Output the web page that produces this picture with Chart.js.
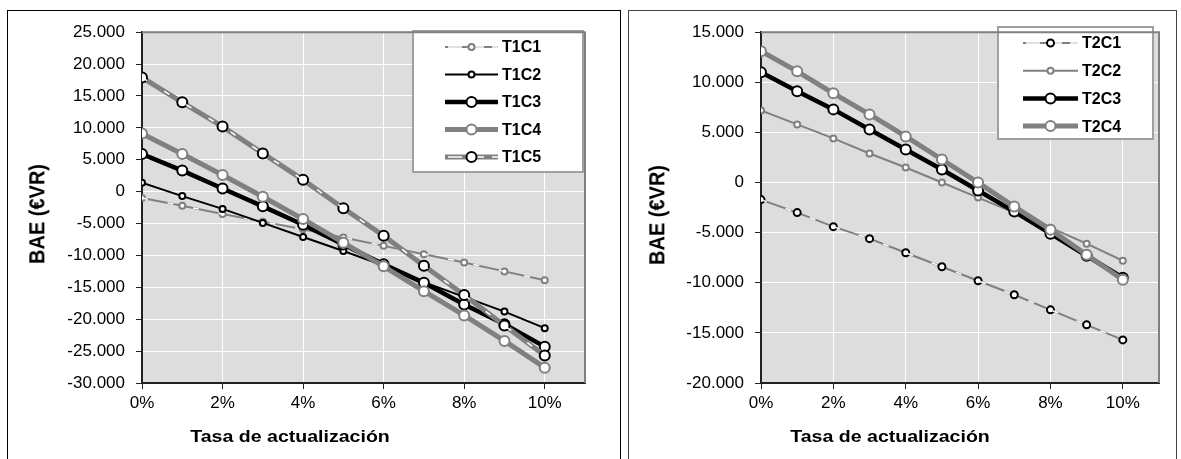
<!DOCTYPE html>
<html>
<head>
<meta charset="utf-8">
<script src="https://cdn.jsdelivr.net/npm/chart.js@4"></script>
<style>
    body { margin: 0; background: #fff; font-family: "Liberation Sans", Arial, sans-serif; }
    .panel { position: absolute; top: 10px; height: 470px; border: 1px solid #000; box-sizing: border-box; }
    #p1 { left: 7px; width: 614px; }
    #p2 { left: 628px; width: 549px; border-color: #444; }
    .panel canvas { position: absolute; left: 0; top: 0; }
    .title { position: absolute; font-weight: bold; white-space: nowrap; color: #000; }
    .ytitle { font-size: 20px; transform: translate(-50%, -50%) rotate(-90deg) scaleY(1.1); }
    .xtitle { font-size: 17px; transform: translate(-50%, -50%) scaleX(1.15); }
</style>
</head>
<body>
<div class="panel" id="p1"><canvas id="chart1" width="612" height="448"></canvas></div>
<div class="panel" id="p2"><canvas id="chart2" width="547" height="448"></canvas></div>
<div class="title ytitle" style="left:37px;top:214px">BAE (€VR)</div>
<div class="title xtitle" style="left:290px;top:437px">Tasa de actualización</div>
<div class="title ytitle" style="left:657px;top:215px">BAE (€VR)</div>
<div class="title xtitle" style="left:890px;top:437px">Tasa de actualización</div>
<script>
// data
const rates = [0, 1, 2, 3, 4, 5, 6, 7, 8, 9, 10];
const xTicks = [0, 2, 4, 6, 8, 10];

const t1Labels = ['T1C1', 'T1C2', 'T1C3', 'T1C4', 'T1C5'];
const t1c1 = [-1000, -2200, -3500, -4700, -5900, -7200, -8500, -9800, -11100, -12500, -13900];
const t1c2 = [1400, -700, -2700, -4900, -7100, -9300, -11600, -14200, -16500, -18800, -21400];
const t1c3 = [5900, 3300, 500, -2300, -5200, -8300, -11400, -14300, -17700, -20800, -24300];
const t1c4 = [9100, 5900, 2600, -800, -4300, -8000, -11700, -15600, -19400, -23400, -27600];
const t1c5 = [17900, 14000, 10200, 6000, 1850, -2600, -6900, -11600, -16200, -21000, -25700];

const t2Labels = ['T2C1', 'T2C2', 'T2C3', 'T2C4'];
const t2c1 = [-1700, -3000, -4400, -5600, -7000, -8400, -9800, -11200, -12700, -14200, -15700];
const t2c2 = [7200, 5800, 4400, 2900, 1500, 0, -1500, -3000, -4500, -6100, -7800];
const t2c3 = [11000, 9100, 7300, 5300, 3300, 1300, -800, -2900, -5100, -7300, -9500];
const t2c4 = [13100, 11100, 8900, 6800, 4600, 2300, 0, -2400, -4700, -7200, -9700];

const GRAY = '#808080';
const FONT = '"Liberation Sans", Arial, sans-serif';

// style per series: line color, line width, marker radius, marker border, dashed white overlay
const t1Styles = [
    { color: GRAY, width: 2, radius: 3, mark: GRAY, dash: true },
    { color: '#000', width: 2, radius: 3, mark: '#000' },
    { color: '#000', width: 4.5, radius: 5, mark: '#000' },
    { color: GRAY, width: 5, radius: 5, mark: GRAY },
    { color: GRAY, width: 5, radius: 5, mark: '#000', dash: true }
];
const t2Styles = [
    { color: GRAY, width: 2, radius: 3.5, mark: '#000', dash: true },
    { color: GRAY, width: 2, radius: 3, mark: GRAY },
    { color: '#000', width: 4.5, radius: 5, mark: '#000' },
    { color: GRAY, width: 5, radius: 5, mark: GRAY }
];

function fmt(v) {
    const s = Math.abs(v).toString().replace(/\B(?=(\d{3})+(?!\d))/g, '.');
    return (v < 0 ? '-' : '') + s;
}

function buildDatasets(labels, values, styles) {
    const sets = [];
    values.forEach((vals, k) => {
        const st = styles[k];
        const pts = rates.map((r, i) => ({ x: r, y: vals[i] }));
        sets.push({
            label: labels[k],
            data: pts,
            st: st,
            borderColor: st.color,
            borderWidth: st.width,
            pointRadius: st.radius,
            pointBorderWidth: 2,
            pointBorderColor: st.mark,
            pointBackgroundColor: '#fff',
            tension: 0,
            order: 100 - 2 * k
        });
        if (st.dash) {
            sets.push({
                data: pts,
                borderColor: '#fff',
                borderWidth: 1.5,
                borderDash: [6, 20],
                pointRadius: 0,
                tension: 0,
                order: 99 - 2 * k
            });
        }
    });
    return sets;
}

// grey plot area with border on top and right
const plotBg = {
    id: 'plotBg',
    beforeDraw(chart) {
        const a = chart.chartArea, ctx = chart.ctx;
        ctx.save();
        ctx.fillStyle = '#dddddd';
        ctx.fillRect(a.left, a.top, a.right - a.left, a.bottom - a.top);
        ctx.restore();
    },
    afterDraw(chart) {
        const a = chart.chartArea, ctx = chart.ctx;
        ctx.save();
        ctx.strokeStyle = GRAY;
        ctx.lineWidth = 2;
        ctx.beginPath();
        ctx.moveTo(a.left, a.top);
        ctx.lineTo(a.right, a.top);
        ctx.lineTo(a.right, a.bottom);
        ctx.stroke();
        ctx.restore();
    }
};

// boxed legend inside the plot
const legendBox = {
    id: 'legendBox',
    afterDatasetsDraw(chart, args, o) {
        const ctx = chart.ctx;
        ctx.save();
        ctx.fillStyle = '#fff';
        ctx.strokeStyle = '#a0a0a0';
        ctx.lineWidth = 2;
        ctx.fillRect(o.x, o.y, o.w, o.h);
        ctx.strokeRect(o.x, o.y, o.w, o.h);
        const items = chart.data.datasets.filter(d => d.label);
        items.forEach((d, i) => {
            const st = d.st;
            const y = o.y + o.first + i * o.step;
            ctx.strokeStyle = st.color;
            ctx.lineWidth = st.width;
            ctx.setLineDash([]);
            ctx.beginPath();
            ctx.moveTo(o.x + o.l1, y);
            ctx.lineTo(o.x + o.l2, y);
            ctx.stroke();
            if (st.dash) {
                ctx.strokeStyle = '#fff';
                ctx.lineWidth = 1.5;
                ctx.setLineDash([14, 8]);
                ctx.beginPath();
                ctx.moveTo(o.x + o.l1 + 3, y);
                ctx.lineTo(o.x + o.l2, y);
                ctx.stroke();
                ctx.setLineDash([]);
            }
            const cx = (o.l1 + o.l2) / 2 + o.x;
            ctx.fillStyle = '#fff';
            ctx.strokeStyle = st.mark;
            ctx.lineWidth = 2;
            ctx.beginPath();
            ctx.arc(cx, y, st.radius, 0, Math.PI * 2);
            ctx.fill();
            ctx.stroke();
            ctx.fillStyle = '#000';
            ctx.font = 'bold 16px ' + FONT;
            ctx.textBaseline = 'middle';
            ctx.fillText(d.label, o.x + o.tx, y + 1);
        });
        ctx.restore();
    }
};

function makeChart(el, datasets, yMin, yMax, pad, yWidth, legend) {
    return new Chart(el, {
        type: 'line',
        data: { datasets: datasets },
        plugins: [plotBg, legendBox],
        options: {
            responsive: false,
            animation: false,
            events: [],
            layout: { padding: pad },
            plugins: {
                legend: { display: false },
                tooltip: { enabled: false },
                legendBox: legend
            },
            scales: {
                x: {
                    type: 'linear',
                    min: 0,
                    max: 11,
                    afterBuildTicks: s => { s.ticks = xTicks.map(v => ({ value: v })); },
                    afterFit: s => { s.height = 76; },
                    grid: { color: '#fff', lineWidth: 1, tickLength: 6, tickColor: '#222' },
                    border: { color: '#222', width: 2 },
                    ticks: {
                        color: '#000',
                        font: { family: FONT, size: 17 },
                        padding: 4,
                        maxRotation: 0,
                        callback: v => v + '%'
                    }
                },
                y: {
                    min: yMin,
                    max: yMax,
                    afterFit: s => { s.width = yWidth; },
                    grid: { color: '#fff', lineWidth: 1, tickLength: 6, tickColor: '#222' },
                    border: { color: '#222', width: 2 },
                    ticks: {
                        stepSize: 5000,
                        color: '#000',
                        font: { family: FONT, size: 17 },
                        padding: 11,
                        callback: v => fmt(v)
                    }
                }
            }
        }
    });
}

makeChart(
    document.getElementById('chart1'),
    buildDatasets(t1Labels, [t1c1, t1c2, t1c3, t1c4, t1c5], t1Styles),
    -30000, 25000,
    { left: 0, top: 15, right: 35, bottom: 0 }, 134,
    { x: 405, y: 20, w: 170, h: 141, first: 16, step: 27.5, l1: 32, l2: 85, tx: 89 }
);

makeChart(
    document.getElementById('chart2'),
    buildDatasets(t2Labels, [t2c1, t2c2, t2c3, t2c4], t2Styles),
    -20000, 15000,
    { left: 0, top: 12, right: 17, bottom: 0 }, 132,
    { x: 369, y: 16, w: 155, h: 112, first: 16, step: 27.7, l1: 25, l2: 80, tx: 84 }
);
</script>
</body>
</html>
